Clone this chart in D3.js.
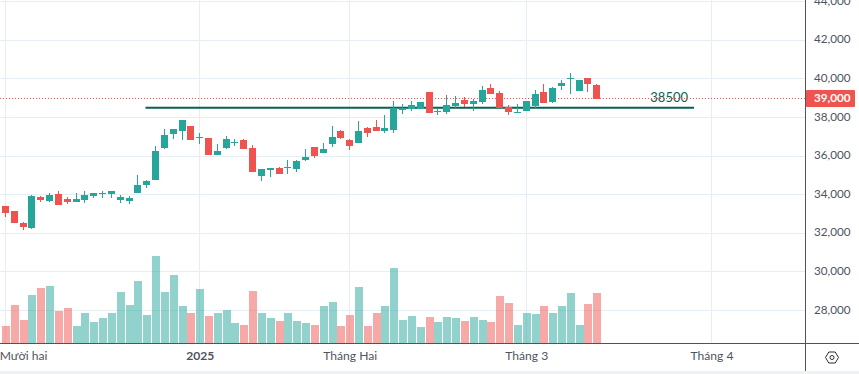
<!DOCTYPE html>
<html><head><meta charset="utf-8">
<script src="https://cdn.jsdelivr.net/npm/d3@7"></script>
<style>
html,body{margin:0;padding:0;background:#fff;overflow:hidden}
svg{display:block}
text{font-family:Lato,sans-serif}
</style></head><body><svg id="c" width="859" height="374"></svg>
<script>
const open=[33420,33160,32540,32280,33880,33680,34040,33780,33620,33730,33940,34040,34040,33730,33680,34090,34510,34760,36420,37150,37300,37560,36940,36940,36060,36420,36680,36840,36420,34970,35280,35390,35390,35330,35800,36470,36160,36630,37300,36840,36680,37460,37510,37300,37350,38390,38440,38440,39320,38290,38290,38600,38910,38700,38800,39530,39270,38550,38240,38340,38600,39320,38800,39630,40000,39370,40050,39690];
const high=[33420,33160,32590,33990,33940,34090,34190,33880,34090,34190,34090,34190,34190,33990,33940,35020,34760,36530,37410,37410,37870,37560,37200,36940,36630,37040,36890,36890,36580,35330,35390,35440,35800,35800,36370,36470,36680,37560,37350,36890,37820,37510,37870,38130,38860,38700,38860,38800,39320,38490,39170,39120,39060,38960,39630,39740,39370,38650,38700,38860,39430,39740,39580,39940,40310,39940,40050,39740];
const low=[32850,32540,32170,32230,33620,33620,33470,33520,33620,33570,33830,33830,33830,33570,33520,34090,34350,34760,36370,36890,36840,36840,36630,36060,36060,36370,36530,36370,35180,34710,34920,35080,35080,35180,35750,35900,36160,36470,36890,36320,36680,36990,37300,37200,37200,38180,38340,38440,38230,38130,38180,38490,38550,38340,38700,39220,38490,38130,38240,38340,38490,38750,38750,39430,39220,39370,39320,38960];
const close=[33050,32540,32330,33940,33730,33990,33470,33620,33780,33990,34090,34090,34190,33880,33830,34510,34710,36270,37100,37410,37870,36840,36990,36060,36270,36890,36730,36370,35180,35330,35390,35080,35440,35750,35960,36010,36370,36990,36940,36530,37300,37200,37300,37460,38490,38490,38650,38800,38230,38340,38650,38750,38700,38860,39430,39220,38490,38290,38290,38860,39220,38750,39530,39790,40050,39940,39740,38960];
const volumeUp=[0,0,0,1,0,1,0,0,1,1,1,1,1,1,1,1,1,1,1,1,1,0,1,0,1,1,1,0,0,1,1,0,1,1,1,0,1,1,0,0,1,0,0,1,1,1,1,1,0,1,1,1,0,1,1,0,0,0,1,1,1,0,1,1,1,1,0,0];
const volume=[52,115,70,145,166,172,97,106,52,91,64,76,91,154,115,187,85,262,154,205,112,91,163,82,91,100,61,55,157,91,76,67,91,67,61,55,112,124,52,85,169,52,91,112,226,70,82,49,79,64,79,76,67,79,70,64,142,121,55,91,88,112,91,112,151,55,118,151];
const priceTicks=[28000,30000,32000,34000,36000,38000,40000,42000,44000];
const timeTickIndex=[0,22,39,59,80];
const timeTickLabels=["Mười hai","2025","Tháng Hai","Tháng 3","Tháng 4"];
const lastPrice=39000;
const levelPrice=38500, levelLabel="38500";

const W=859,H=374,paneR=805,paneB=343;
const green="#26a69a",red="#ef5350";
const x=d3.scaleLinear().domain([0,67]).range([5.5,596.8]);
const y=d3.scaleLinear().domain([32000,42000]).range([233.3,40.3]);
const yV=d3.scaleLinear().domain([0,300]).range([343.3,243.3]);
const svg=d3.select("#c");
svg.append("rect").attr("y",371).attr("width",W).attr("height",3).attr("fill","#eff1f4");
const px=v=>Math.floor(x(v));

// grid
const grid=svg.append("g").attr("shape-rendering","crispEdges").attr("stroke","#e6edf3");
grid.selectAll(".h").data(priceTicks).join("line").attr("x1",0).attr("x2",paneR)
  .attr("y1",d=>Math.floor(y(d))+.5).attr("y2",d=>Math.floor(y(d))+.5);
grid.selectAll(".v").data(timeTickIndex).join("line").attr("y1",0).attr("y2",paneB)
  .attr("x1",d=>px(d)+.5).attr("x2",d=>px(d)+.5);

// volumes
svg.append("g").attr("shape-rendering","crispEdges").selectAll("rect").data(volume).join("rect")
  .attr("x",(d,i)=>px(i)-3.5).attr("width",8)
  .attr("y",d=>yV(d)).attr("height",d=>yV(0)-yV(d))
  .attr("fill",(d,i)=>volumeUp[i]?green:red).attr("fill-opacity",.5);

// level
svg.append("line").attr("x1",145.5).attr("x2",694).attr("y1",y(levelPrice)).attr("y2",y(levelPrice))
  .attr("stroke","#0b5f50").attr("stroke-width",2);
svg.append("text").attr("x",688).attr("y",102).attr("text-anchor","end")
  .attr("font-size",13).attr("fill","#0b5f50").text(levelLabel);

// last price dotted
svg.append("line").attr("x1",0).attr("x2",paneR).attr("y1",Math.floor(y(lastPrice))+.5).attr("y2",Math.floor(y(lastPrice))+.5)
  .attr("stroke",red).attr("stroke-dasharray","1 2").attr("shape-rendering","crispEdges");

// candles
const candles=svg.append("g").attr("shape-rendering","crispEdges").selectAll("g").data(open).join("g")
  .attr("fill",(d,i)=>close[i]>=d?green:red);
candles.append("rect").attr("x",(d,i)=>px(i)).attr("width",1)
  .attr("y",(d,i)=>Math.round(y(high[i]))).attr("height",(d,i)=>Math.max(1,Math.round(y(low[i]))-Math.round(y(high[i]))));
candles.append("rect").attr("x",(d,i)=>px(i)-3).attr("width",7)
  .attr("y",(d,i)=>Math.round(y(Math.max(d,close[i]))))
  .attr("height",(d,i)=>Math.max(1,Math.round(y(Math.min(d,close[i])))-Math.round(y(Math.max(d,close[i])))));

// axes panes
const fmt=d3.format(",");
const yAxis=d3.axisRight(y).tickValues(priceTicks).tickFormat(fmt).tickSize(0).tickPadding(8.5);
const gy=svg.append("g").attr("transform",`translate(${paneR+.5},-1.5)`).call(yAxis);
gy.select(".domain").remove();
gy.selectAll("text").attr("font-size",11.7).attr("fill","#50535e").attr("dy","0.35em")
  .style("font-family","Lato,sans-serif");

const xAxis=d3.axisBottom(x).tickValues(timeTickIndex).tickFormat((d,i)=>timeTickLabels[i]).tickSize(0).tickPadding(8);
const gx=svg.append("g").attr("transform",`translate(0,${paneB+.5})`).call(xAxis);
gx.select(".domain").remove();
gx.selectAll("text").attr("font-size",12.1).attr("fill","#50535e")
  .style("font-family","Lato,sans-serif");
gx.selectAll("text").filter((d,i)=>i===0).attr("text-anchor","end").attr("x",47-x(0));
gx.selectAll("text").filter(d=>d===22).attr("font-weight","bold");

const lines=svg.append("g").attr("stroke","#50535e").attr("shape-rendering","crispEdges");
lines.append("line").attr("x1",0).attr("x2",W).attr("y1",paneB+.5).attr("y2",paneB+.5);
lines.append("line").attr("x1",paneR+.5).attr("x2",paneR+.5).attr("y1",0).attr("y2",371);

// last price label
const ly=Math.floor(y(lastPrice));
svg.append("rect").attr("x",806).attr("y",90).attr("width",49).attr("height",17).attr("rx",1).attr("fill",red);
svg.append("text").attr("x",814).attr("y",ly+4).attr("font-size",11.7).attr("font-weight","bold").attr("fill","#fff").text(fmt(lastPrice));

// settings icon
const ic=svg.append("g").attr("transform","translate(832,357.5)").attr("fill","none").attr("stroke","#2a2e39");
ic.append("path").attr("d","M-6.5,0L-3.2,-5.5H3.2L6.5,0L3.2,5.5H-3.2Z");
ic.append("circle").attr("r",2);
</script></body></html>
